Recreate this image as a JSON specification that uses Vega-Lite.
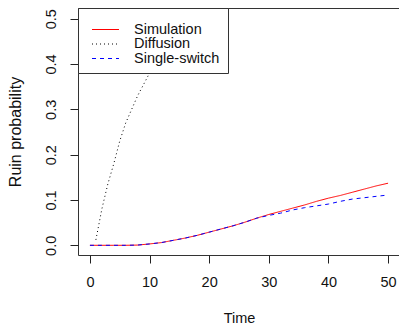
{
  "$schema": "https://vega.github.io/schema/vega-lite/v6.json",
  "width": 322,
  "height": 247,
  "autosize": {"type": "none"},
  "padding": {"left": 78, "top": 8, "right": 0, "bottom": 71},
  "background": "white",
  "config": {
    "font": "Liberation Sans",
    "view": {"stroke": "#333", "strokeWidth": 1},
    "axis": {
      "domain": false,
      "grid": false,
      "tickColor": "#222",
      "tickSize": 8,
      "tickWidth": 1,
      "labelFont": "Liberation Sans",
      "labelFontSize": 14.5,
      "labelColor": "#111",
      "titleFont": "Liberation Sans",
      "titleFontWeight": "normal",
      "titleColor": "#111"
    },
    "legend": {
      "orient": "top-left",
      "offset": 0,
      "strokeColor": "#333",
      "fillColor": "white",
      "padding": 8,
      "labelFont": "Liberation Sans",
      "labelFontSize": 14.5,
      "labelColor": "#111",
      "labelOffset": 21,
      "symbolType": "M-2,0H2",
      "symbolSize": 182,
      "symbolOffset": 12,
      "symbolStrokeWidth": 1,
      "symbolFillColor": "transparent",
      "rowPadding": -0.5,
      "titleFontSize": 6,
      "titlePadding": 0
    }
  },
  "data": {
    "values": [
      {"series": "Simulation", "t": 0, "p": 0},
      {"series": "Simulation", "t": 2, "p": 0},
      {"series": "Simulation", "t": 4, "p": 0},
      {"series": "Simulation", "t": 6, "p": 0},
      {"series": "Simulation", "t": 8, "p": 0.0005},
      {"series": "Simulation", "t": 10, "p": 0.003},
      {"series": "Simulation", "t": 12, "p": 0.006},
      {"series": "Simulation", "t": 14, "p": 0.011},
      {"series": "Simulation", "t": 16, "p": 0.016},
      {"series": "Simulation", "t": 18, "p": 0.022},
      {"series": "Simulation", "t": 20, "p": 0.029},
      {"series": "Simulation", "t": 22, "p": 0.036},
      {"series": "Simulation", "t": 24, "p": 0.043},
      {"series": "Simulation", "t": 26, "p": 0.051},
      {"series": "Simulation", "t": 28, "p": 0.06},
      {"series": "Simulation", "t": 30, "p": 0.068},
      {"series": "Simulation", "t": 32, "p": 0.075},
      {"series": "Simulation", "t": 34, "p": 0.082},
      {"series": "Simulation", "t": 36, "p": 0.089},
      {"series": "Simulation", "t": 38, "p": 0.097},
      {"series": "Simulation", "t": 40, "p": 0.104},
      {"series": "Simulation", "t": 42, "p": 0.11},
      {"series": "Simulation", "t": 44, "p": 0.117},
      {"series": "Simulation", "t": 46, "p": 0.124},
      {"series": "Simulation", "t": 48, "p": 0.131},
      {"series": "Simulation", "t": 50, "p": 0.137},
      {"series": "Diffusion", "t": 1, "p": 0.012},
      {"series": "Diffusion", "t": 2, "p": 0.08},
      {"series": "Diffusion", "t": 3, "p": 0.135},
      {"series": "Diffusion", "t": 4, "p": 0.18},
      {"series": "Diffusion", "t": 5, "p": 0.23},
      {"series": "Diffusion", "t": 6, "p": 0.27},
      {"series": "Diffusion", "t": 7, "p": 0.3},
      {"series": "Diffusion", "t": 8, "p": 0.33},
      {"series": "Diffusion", "t": 9, "p": 0.355},
      {"series": "Diffusion", "t": 10, "p": 0.38},
      {"series": "Diffusion", "t": 12, "p": 0.42},
      {"series": "Diffusion", "t": 14, "p": 0.455},
      {"series": "Diffusion", "t": 16, "p": 0.485},
      {"series": "Diffusion", "t": 18, "p": 0.51},
      {"series": "Diffusion", "t": 20, "p": 0.535},
      {"series": "Single-switch", "t": 0, "p": 0},
      {"series": "Single-switch", "t": 2, "p": 0},
      {"series": "Single-switch", "t": 4, "p": 0},
      {"series": "Single-switch", "t": 6, "p": 0},
      {"series": "Single-switch", "t": 8, "p": 0.0005},
      {"series": "Single-switch", "t": 10, "p": 0.003},
      {"series": "Single-switch", "t": 12, "p": 0.006},
      {"series": "Single-switch", "t": 14, "p": 0.011},
      {"series": "Single-switch", "t": 16, "p": 0.016},
      {"series": "Single-switch", "t": 18, "p": 0.022},
      {"series": "Single-switch", "t": 20, "p": 0.029},
      {"series": "Single-switch", "t": 22, "p": 0.036},
      {"series": "Single-switch", "t": 24, "p": 0.043},
      {"series": "Single-switch", "t": 26, "p": 0.051},
      {"series": "Single-switch", "t": 28, "p": 0.06},
      {"series": "Single-switch", "t": 30, "p": 0.066},
      {"series": "Single-switch", "t": 32, "p": 0.071},
      {"series": "Single-switch", "t": 34, "p": 0.078},
      {"series": "Single-switch", "t": 36, "p": 0.083},
      {"series": "Single-switch", "t": 38, "p": 0.087},
      {"series": "Single-switch", "t": 40, "p": 0.091},
      {"series": "Single-switch", "t": 42, "p": 0.097},
      {"series": "Single-switch", "t": 44, "p": 0.102},
      {"series": "Single-switch", "t": 46, "p": 0.105},
      {"series": "Single-switch", "t": 48, "p": 0.108},
      {"series": "Single-switch", "t": 50, "p": 0.111}
    ]
  },
  "mark": {"type": "line", "clip": true, "strokeWidth": 1},
  "encoding": {
    "x": {
      "field": "t",
      "type": "quantitative",
      "scale": {"domain": [-2, 52], "nice": false, "zero": false},
      "axis": {
        "values": [0, 10, 20, 30, 40, 50],
        "title": "Time",
        "titleFontSize": 14.5,
        "labelBaseline": "middle",
        "labelPadding": 19,
        "labelFlush": false,
        "titleY": 63,
        "titleBaseline": "middle"
      }
    },
    "y": {
      "field": "p",
      "type": "quantitative",
      "scale": {"domain": [-0.0214, 0.5236], "nice": false, "zero": false},
      "axis": {
        "values": [0, 0.1, 0.2, 0.3, 0.4, 0.5],
        "format": ".1f",
        "title": "Ruin probability",
        "titleFontSize": 16,
        "labelAngle": -90,
        "labelAlign": "center",
        "labelBaseline": "middle",
        "labelPadding": 19,
        "labelFlush": false,
        "titleX": -63,
        "titleBaseline": "middle"
      }
    },
    "color": {
      "field": "series",
      "type": "nominal",
      "scale": {"domain": ["Simulation", "Diffusion", "Single-switch"], "range": ["#FF0000", "#000000", "#0000FF"]},
      "legend": {"title": " "}
    },
    "strokeDash": {
      "field": "series",
      "type": "nominal",
      "scale": {"domain": ["Simulation", "Diffusion", "Single-switch"], "range": [[1, 0], [1, 3], [4, 4]]},
      "legend": {"title": " "}
    }
  }
}
